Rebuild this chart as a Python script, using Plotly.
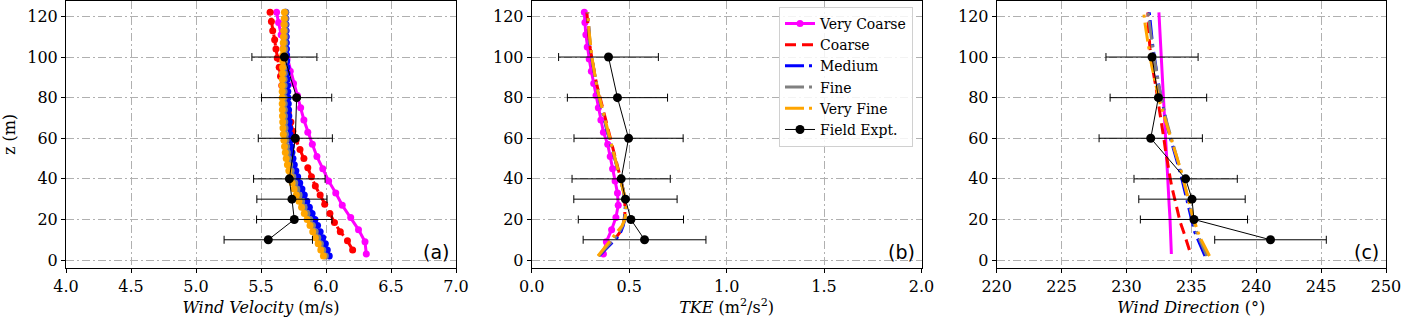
import plotly.graph_objects as go

# ---------------- data ----------------
z_vc = [3, 9, 15, 21, 27, 33, 39, 45, 51, 57, 63, 69, 75, 81, 87, 93, 99, 105, 111, 117, 122]
z_c = [5, 9.5, 14, 18.5, 23, 27.5, 32, 36.5, 41, 45.5, 50, 54.5, 59, 63.5, 68, 72.5, 77, 81.5,
       86, 90.5, 95, 99.5, 104, 108.5, 113, 117.5, 122]
z_m = [2, 5, 8, 11, 14, 17, 20, 23, 26, 29, 32, 35, 38, 41, 44, 47, 50, 53, 56, 59, 62, 65, 68,
       71, 74, 77, 80, 83, 86, 89, 92, 95, 98, 101, 104, 107, 110, 113, 116, 119, 122]
z_f = z_m
z_vf = z_m

# Wind velocity (m/s)
u_vc = [6.31, 6.30, 6.25, 6.19, 6.125, 6.075, 6.02, 5.975, 5.93, 5.895, 5.86, 5.83, 5.805, 5.78,
        5.75, 5.725, 5.70, 5.675, 5.655, 5.635, 5.62]
u_c = [6.205, 6.165, 6.11, 6.065, 6.03, 5.99, 5.955, 5.918, 5.888, 5.86, 5.83, 5.80, 5.77, 5.745,
       5.73, 5.71, 5.69, 5.675, 5.66, 5.65, 5.64, 5.625, 5.615, 5.605, 5.59, 5.58, 5.57]
u_m = [6.025, 6.01, 5.995, 5.975, 5.955, 5.935, 5.915, 5.893, 5.872, 5.852, 5.833, 5.815, 5.798,
       5.782, 5.768, 5.756, 5.746, 5.738, 5.732, 5.727, 5.723, 5.72, 5.717, 5.714, 5.712, 5.71,
       5.708, 5.706, 5.704, 5.702, 5.70, 5.699, 5.698, 5.697, 5.696, 5.695, 5.694, 5.693, 5.692,
       5.691, 5.69]
u_f = [5.995, 5.975, 5.957, 5.937, 5.917, 5.896, 5.875, 5.853, 5.832, 5.812, 5.793, 5.776, 5.76,
       5.745, 5.732, 5.721, 5.711, 5.703, 5.697, 5.692, 5.688, 5.685, 5.683, 5.681, 5.68, 5.679,
       5.678, 5.678, 5.678, 5.678, 5.679, 5.68, 5.681, 5.682, 5.683, 5.684, 5.685, 5.686, 5.687,
       5.688, 5.689]
u_vf = [5.98, 5.96, 5.94, 5.918, 5.898, 5.877, 5.855, 5.833, 5.812, 5.792, 5.772, 5.755, 5.74,
        5.726, 5.714, 5.703, 5.694, 5.687, 5.681, 5.676, 5.672, 5.669, 5.667, 5.665, 5.664, 5.663,
        5.663, 5.663, 5.663, 5.664, 5.665, 5.666, 5.667, 5.668, 5.669, 5.671, 5.673, 5.675, 5.677,
        5.679, 5.68]

# TKE (m2/s2)
k_vc = [0.368, 0.383, 0.41, 0.432, 0.444, 0.44, 0.428, 0.415, 0.403, 0.39, 0.368, 0.355, 0.342,
        0.33, 0.318, 0.306, 0.295, 0.285, 0.278, 0.273, 0.27]
k_c = [0.37, 0.42, 0.455, 0.472, 0.478, 0.478, 0.474, 0.465, 0.454, 0.442, 0.43, 0.418, 0.406,
       0.393, 0.38, 0.368, 0.356, 0.345, 0.335, 0.325, 0.316, 0.308, 0.301, 0.295, 0.29, 0.286, 0.283]
k_m = [0.345, 0.375, 0.41, 0.438, 0.458, 0.47, 0.476, 0.479, 0.48, 0.479, 0.475, 0.469, 0.461,
       0.452, 0.444, 0.434, 0.425, 0.416, 0.408, 0.40, 0.391, 0.383, 0.376, 0.368, 0.36, 0.353,
       0.346, 0.339, 0.333, 0.327, 0.321, 0.315, 0.309, 0.305, 0.301, 0.298, 0.295, 0.293, 0.291,
       0.289, 0.287]
k_f = [0.342, 0.37, 0.40, 0.428, 0.45, 0.467, 0.477, 0.481, 0.482, 0.48, 0.475, 0.468, 0.46,
       0.452, 0.444, 0.435, 0.426, 0.418, 0.41, 0.401, 0.392, 0.384, 0.376, 0.368, 0.36, 0.353,
       0.346, 0.339, 0.333, 0.327, 0.321, 0.316, 0.311, 0.306, 0.302, 0.299, 0.296, 0.293, 0.291,
       0.289, 0.287]
k_vf = [0.34, 0.365, 0.392, 0.418, 0.443, 0.464, 0.477, 0.483, 0.484, 0.482, 0.476, 0.468, 0.46,
        0.452, 0.444, 0.436, 0.428, 0.42, 0.411, 0.403, 0.394, 0.385, 0.377, 0.369, 0.361, 0.354,
        0.347, 0.34, 0.334, 0.328, 0.322, 0.317, 0.312, 0.308, 0.304, 0.30, 0.297, 0.294, 0.292,
        0.29, 0.288]

# Wind direction (deg)
d_vc = [233.46, 233.44, 233.4, 233.35, 233.29, 233.24, 233.19, 233.14, 233.1, 233.05, 232.99,
        232.93, 232.87, 232.8, 232.75, 232.7, 232.66, 232.62, 232.57, 232.53, 232.5]
d_c = [234.85, 234.65, 234.4, 234.15, 233.97, 233.8, 233.63, 233.48, 233.35, 233.22, 233.1, 233.0,
       232.9, 232.8, 232.68, 232.58, 232.48, 232.38, 232.25, 232.12, 232.0, 231.9, 231.82, 231.75,
       231.7, 231.67, 231.65]
d_m = [236.05, 235.85, 235.6, 235.4, 235.25, 235.13, 235.02, 234.92, 234.82, 234.73, 234.62, 234.5,
       234.37, 234.23, 234.1, 233.96, 233.82, 233.68, 233.55, 233.42, 233.3, 233.18, 233.07, 232.97,
       232.87, 232.77, 232.67, 232.58, 232.49, 232.41, 232.33, 232.26, 232.19, 232.12, 232.06, 232.0,
       231.95, 231.9, 231.85, 231.8, 231.76]
d_f = [236.2, 236.0, 235.75, 235.55, 235.38, 235.24, 235.11, 235.0, 234.89, 234.79, 234.68, 234.57,
       234.45, 234.32, 234.18, 234.04, 233.9, 233.76, 233.62, 233.48, 233.35, 233.22, 233.1, 232.99,
       232.88, 232.78, 232.68, 232.59, 232.5, 232.41, 232.33, 232.25, 232.17, 232.1, 232.03, 231.96,
       231.9, 231.84, 231.78, 231.72, 231.67]
d_vf = [236.4, 236.15, 235.9, 235.68, 235.5, 235.33, 235.18, 235.05, 234.93, 234.82, 234.71, 234.6,
        234.48, 234.35, 234.21, 234.06, 233.91, 233.76, 233.61, 233.46, 233.31, 233.16, 233.01,
        232.87, 232.73, 232.6, 232.48, 232.37, 232.26, 232.16, 232.06, 231.97, 231.88, 231.8, 231.72,
        231.64, 231.57, 231.5, 231.44, 231.38, 231.33]

# Field experiment
z_obs = [10, 20, 30, 40, 60, 80, 100]
u_obs = [5.556, 5.756, 5.738, 5.718, 5.764, 5.774, 5.68]
u_err = [0.34, 0.29, 0.27, 0.275, 0.285, 0.27, 0.25]
k_obs = [0.579, 0.509, 0.481, 0.459, 0.497, 0.44, 0.394]
k_err = [0.315, 0.27, 0.265, 0.252, 0.28, 0.257, 0.256]
d_obs = [241.1, 235.2, 235.05, 234.56, 231.87, 232.46, 231.97]
d_err = [4.3, 4.13, 4.1, 3.98, 3.98, 3.72, 3.55]

names = ["Very Coarse", "Coarse", "Medium", "Fine", "Very Fine"]
colors = ["#ff00ff", "#ff0000", "#0000ff", "#808080", "#ffa500"]
dashes = ["solid", "11px,6px", "19px,5px,3px,5px", "19px,5px,3px,5px", "19px,5px,3px,5px"]
zs = [z_vc, z_c, z_m, z_f, z_vf]

panels = [
    ([u_vc, u_c, u_m, u_f, u_vf], [True] * 5, u_obs, u_err),
    ([k_vc, k_c, k_m, k_f, k_vf], [True, False, False, False, False], k_obs, k_err),
    ([d_vc, d_c, d_m, d_f, d_vf], [False] * 5, d_obs, d_err),
]

FONT = "DejaVu Serif"
fig = go.Figure()

for p, (series, mk, obs, err) in enumerate(panels):
    xa = "x" if p == 0 else f"x{p+1}"
    ya = "y" if p == 0 else f"y{p+1}"
    for i in range(5):
        fig.add_trace(go.Scatter(
            x=series[i], y=zs[i], xaxis=xa, yaxis=ya, name=names[i],
            mode="lines+markers" if mk[i] else "lines",
            line=dict(color=colors[i], width=3, dash=dashes[i]),
            marker=dict(size=7, color=colors[i]),
            showlegend=(p == 1), legendrank=i + 1,
        ))
    fig.add_trace(go.Scatter(
        x=obs, y=z_obs, xaxis=xa, yaxis=ya, name="Field Expt.",
        mode="lines+markers",
        line=dict(color="black", width=1),
        marker=dict(size=9, color="black"),
        error_x=dict(type="data", array=err, color="black", thickness=1, width=4),
        showlegend=(p == 1), legendrank=6,
    ))

L, R = 66, 15
W = 1401 - L - R
doms = [(0, 390 / W), ((531.7 - L) / W, (921.5 - L) / W), ((996.7 - L) / W, 1.0)]
xranges = [[4.0, 7.0], [0.0, 2.0], [220, 250]]
xticks = [[4.0, 4.5, 5.0, 5.5, 6.0, 6.5, 7.0], [0.0, 0.5, 1.0, 1.5, 2.0],
          [220, 225, 230, 235, 240, 245, 250]]
xfmt = [".1f", ".1f", "d"]
xtitles = ["<i>Wind Velocity</i> (m/s)", "<i>TKE</i> (m<sup>2</sup>/s<sup>2</sup>)",
           "<i>Wind Direction</i> (°)"]
yticks = [0, 20, 40, 60, 80, 100, 120]

common = dict(showline=True, linecolor="black", linewidth=1, mirror=True,
              ticks="outside", ticklen=4, tickwidth=1, tickcolor="black",
              showgrid=True, gridcolor="#b0b0b0", gridwidth=1, griddash="8px,3px,2px,3px",
              zeroline=False, ticklabeloverflow="allow",
              tickfont=dict(family=FONT, size=16, color="black"))

for p in range(3):
    sfx = "" if p == 0 else str(p + 1)
    ydict = dict(common, domain=[0, 1], range=[-3.9, 127.6], tickvals=yticks, anchor=f"x{sfx}")
    if p == 0:
        ydict["title"] = dict(text="z (m)", font=dict(family=FONT, size=16, color="black"), standoff=8)
    fig.update_layout(**{
        f"xaxis{sfx}": dict(common, domain=list(doms[p]), range=xranges[p], tickvals=xticks[p],
                            tickformat=xfmt[p], anchor=f"y{sfx}",
                            title=dict(text=xtitles[p], font=dict(family=FONT, size=16, color="black"),
                                       standoff=6)),
        f"yaxis{sfx}": ydict,
    })

for p, lab in enumerate(["(a)", "(b)", "(c)"]):
    sfx = "" if p == 0 else str(p + 1)
    fig.add_annotation(text=lab, xref=f"x{sfx} domain", yref=f"y{sfx} domain",
                       x=0.988, y=0.061, xanchor="right", yanchor="middle", showarrow=False,
                       font=dict(family="DejaVu Sans", size=19, color="black"))

fig.update_layout(
    width=1401, height=318,
    margin=dict(l=L, r=R, t=1, b=50),
    paper_bgcolor="white", plot_bgcolor="white",
    font=dict(family=FONT, size=16, color="black"),
    legend=dict(x=(913 - L) / W, y=0.978, xanchor="right", yanchor="top",
                bgcolor="rgba(255,255,255,0.85)", bordercolor="#d0d0d0", borderwidth=1,
                font=dict(family=FONT, size=14, color="black"), tracegroupgap=0),
)

fig.write_html("out.html", config={"displayModeBar": False},
               post_script="document.body.style.margin='0';document.body.style.overflow='hidden';")
